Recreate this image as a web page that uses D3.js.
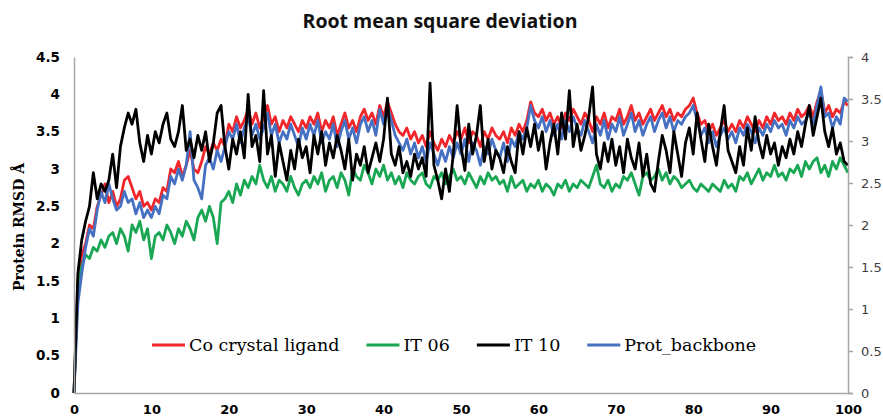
<!DOCTYPE html>
<html>
<head>
<meta charset="utf-8">
<script src="https://cdn.jsdelivr.net/npm/d3@7"></script>
<style>
  body { margin: 0; background: #fff; }
  svg { display: block; }
</style>
</head>
<body>
<div id="chart"></div>
<script>
// RMSD traces, one value every 0.5 ns from 0 to 100 ns
const stepNs = 0.5;

const coCrystalLigand = [
  0, 1.5, 1.85, 2.0, 2.25, 2.2, 2.5, 2.65, 2.8, 2.55,
  2.7, 2.5, 2.6, 2.85, 2.9, 2.75, 2.6, 2.7, 2.5, 2.55,
  2.45, 2.6, 2.55, 2.75, 2.7, 3.0, 2.95, 3.1, 2.9, 3.05,
  3.25, 3.0, 2.95, 3.1, 3.3, 3.2, 3.35, 3.25, 3.4, 3.3,
  3.6, 3.5, 3.7, 3.55, 3.65, 3.8, 3.6, 3.75, 3.55, 3.7,
  3.85, 3.6, 3.7, 3.5, 3.65, 3.55, 3.7, 3.6, 3.5, 3.65,
  3.55, 3.7, 3.6, 3.75, 3.5, 3.65, 3.55, 3.7, 3.45, 3.6,
  3.75, 3.55, 3.65, 3.5, 3.7, 3.8, 3.65, 3.75, 3.6, 3.85,
  3.7, 3.9, 3.75, 3.6, 3.5, 3.45, 3.55, 3.4, 3.5, 3.35,
  3.45, 3.3, 3.5, 3.35, 3.25, 3.4, 3.3, 3.45, 3.35, 3.5,
  3.4, 3.55, 3.35, 3.5, 3.45, 3.3, 3.5, 3.4, 3.55, 3.45,
  3.4, 3.5, 3.35, 3.55, 3.45, 3.6, 3.5, 3.65, 3.9, 3.75,
  3.7, 3.8, 3.65, 3.75, 3.6, 3.7, 3.55, 3.75, 3.65, 3.8,
  3.7, 3.6, 3.75, 3.65, 3.5, 3.7, 3.6, 3.75, 3.55, 3.7,
  3.65, 3.8, 3.6, 3.7, 3.85, 3.65, 3.75, 3.6, 3.7, 3.8,
  3.65, 3.75, 3.85, 3.7, 3.8, 3.65, 3.75, 3.7, 3.8, 3.85,
  3.95, 3.75, 3.6, 3.65, 3.5, 3.6, 3.45, 3.55, 3.65, 3.5,
  3.6, 3.5, 3.65, 3.55, 3.7, 3.6, 3.5, 3.65, 3.55, 3.7,
  3.6, 3.75, 3.65, 3.7, 3.6, 3.75, 3.65, 3.8, 3.7, 3.75,
  3.85, 3.7, 3.9, 4.05, 3.75, 3.85, 3.7, 3.8, 3.75, 3.9,
  3.85
];

const it06 = [
  0, 1.45, 1.7, 1.85, 1.8, 1.95, 1.9, 2.05, 1.95, 2.1,
  2.15, 2.0, 2.2, 2.1, 1.9, 2.25, 2.15, 2.3, 2.05, 2.2,
  1.8, 2.1, 2.15, 2.05, 2.25, 2.15, 2.0, 2.2, 2.1, 2.3,
  2.2, 2.05, 2.35, 2.45, 2.3, 2.5, 2.35, 2.0, 2.55, 2.6,
  2.7, 2.55, 2.8, 2.65, 2.85, 2.75, 2.9, 2.8, 3.05, 2.85,
  2.75, 2.9, 2.7, 2.85, 2.8, 2.7, 2.9, 2.75, 2.65, 2.8,
  2.85, 2.75, 2.9, 2.8, 2.95, 2.7, 2.85, 2.9, 2.75, 2.95,
  2.85, 2.65, 3.0, 2.9, 2.85, 3.05, 2.95, 2.8, 3.0, 2.9,
  3.05, 2.85, 2.95, 2.8, 2.9, 2.75, 2.95, 2.85, 2.8, 2.9,
  2.95, 2.8, 2.75, 2.9, 2.85, 2.95, 2.8, 2.9, 3.0, 2.85,
  2.9, 2.8, 2.95, 2.85, 2.75, 2.9, 2.8, 2.95, 2.85, 2.9,
  2.8, 2.85, 2.7, 2.9, 2.75, 2.8, 2.85, 2.7, 2.8, 2.75,
  2.85, 2.7, 2.8, 2.75, 2.65, 2.8, 2.75, 2.85, 2.7, 2.8,
  2.75, 2.85, 2.8, 2.75, 2.9, 3.05, 2.8, 2.75, 2.85, 2.7,
  2.8, 2.75, 2.9, 2.85, 2.95, 2.8, 2.65, 2.9, 2.95, 2.85,
  2.9, 3.0, 2.85, 2.95, 2.8, 2.9, 2.85, 2.75, 2.8, 2.85,
  2.75, 2.7, 2.8, 2.75, 2.7, 2.8, 2.75, 2.7, 2.85, 2.75,
  2.8, 2.7, 2.9, 2.85, 2.95, 2.8, 2.9, 3.0, 2.85, 2.95,
  2.9, 3.05, 2.9, 2.95, 2.85, 3.0, 2.95, 3.05, 2.9, 3.1,
  3.0, 3.1, 3.15, 2.95, 3.05, 2.9, 3.1, 3.0, 3.15, 3.05,
  2.95
];

const it10 = [
  0, 1.6, 2.05, 2.3, 2.5, 2.95, 2.6, 2.8, 2.7, 2.85,
  3.2, 2.75, 3.3, 3.55, 3.75, 3.6, 3.8, 3.35, 3.1, 3.45,
  3.2, 3.5, 3.35, 3.6, 3.75, 3.4, 3.3, 3.5, 3.85, 3.25,
  3.4, 3.15, 3.45, 3.25, 3.5, 3.1, 3.35, 3.75, 3.85, 3.3,
  3.0, 3.4, 3.2, 3.5, 3.15, 4.0, 3.3, 3.45, 3.1, 4.05,
  3.2, 3.45, 2.9, 3.35, 3.1, 2.85, 3.25, 3.0, 3.4, 3.15,
  3.3, 2.95, 3.45, 3.2, 3.5, 3.05, 3.35, 3.15, 3.45, 3.25,
  3.0, 3.4, 2.85, 3.2, 3.05, 3.3, 2.95, 3.15, 3.35, 3.1,
  3.4, 3.95, 3.2, 3.05, 3.3, 2.95, 3.1, 2.9, 3.2, 3.0,
  3.15, 2.9, 4.15, 3.05, 2.85, 2.6, 3.0, 2.7, 3.2, 3.85,
  3.3, 2.98, 3.6, 3.2, 3.45, 3.85, 3.1, 3.4, 3.0, 3.25,
  3.15, 2.95, 3.3, 3.1, 2.95, 3.5, 3.2, 3.55, 3.3, 3.6,
  3.25, 3.5, 3.0, 3.35, 3.6, 3.2, 3.75, 3.4, 4.05, 3.3,
  3.6, 3.25, 3.45, 3.7, 4.1, 3.2, 3.0, 3.35, 3.1, 3.4,
  3.05, 3.3, 2.95, 3.4, 3.15, 3.0, 3.35, 2.9, 3.2, 2.8,
  2.7, 3.1, 3.45, 3.25, 2.95, 3.5, 3.2, 2.9, 3.35, 3.55,
  3.2, 3.75, 3.4, 3.1, 3.6, 3.3, 3.05, 3.5, 3.85, 3.25,
  3.1, 2.95, 3.3, 3.05, 3.55, 3.25, 3.7, 3.35, 3.15, 3.45,
  3.2, 3.35, 3.05, 3.3, 3.15, 3.4, 3.2, 3.5, 3.3, 3.6,
  3.85, 3.45, 3.7, 3.95, 3.5, 3.3, 3.55, 3.2, 3.35, 3.1,
  3.05
];

const protBackbone = [
  0, 1.2, 1.6, 1.95, 2.2, 2.1, 2.45, 2.7, 2.55, 2.8,
  2.6, 2.45, 2.5, 2.7, 2.55, 2.6, 2.4, 2.55, 2.35, 2.45,
  2.35, 2.5, 2.4, 2.65, 2.6, 2.9, 2.8, 3.0, 2.85, 3.05,
  3.5, 2.85, 2.75, 2.6, 3.05, 3.15, 3.0, 3.25, 3.1, 3.3,
  3.5, 3.4, 3.6, 3.35, 3.55, 3.7, 3.45, 3.6, 3.4, 3.55,
  3.75, 3.45, 3.6, 3.35, 3.5, 3.4, 3.6, 3.45, 3.3, 3.55,
  3.4, 3.6, 3.45, 3.65, 3.35, 3.5, 3.4, 3.6, 3.3, 3.5,
  3.65, 3.4, 3.55, 3.35, 3.6, 3.7, 3.5, 3.65, 3.45, 3.8,
  3.6, 3.85, 3.65, 3.45, 3.35, 3.25, 3.4, 3.2, 3.35, 3.15,
  3.3, 3.1, 3.35, 3.2, 3.05, 3.25, 3.1, 3.3, 3.15, 3.35,
  3.2, 3.4, 3.1, 3.35, 3.25, 3.05, 3.3, 3.2, 3.4, 3.25,
  3.15, 3.35, 3.1, 3.4, 3.3, 3.5, 3.4, 3.55, 3.85, 3.65,
  3.55, 3.7, 3.5, 3.65, 3.45, 3.6, 3.4, 3.65, 3.5, 3.7,
  3.55, 3.45, 3.65, 3.5, 3.35, 3.6, 3.45, 3.65, 3.4, 3.6,
  3.5, 3.7, 3.45, 3.6, 3.75, 3.5, 3.65, 3.45, 3.6, 3.7,
  3.5, 3.65, 3.75, 3.55, 3.7, 3.5, 3.65, 3.6, 3.7, 3.75,
  3.85, 3.65, 3.45, 3.55, 3.35, 3.5, 3.3, 3.45, 3.55, 3.4,
  3.5, 3.35, 3.55, 3.45, 3.6, 3.5, 3.35, 3.55, 3.45, 3.6,
  3.5, 3.65, 3.55, 3.6, 3.45, 3.65, 3.55, 3.7, 3.6, 3.65,
  3.75, 3.6, 3.85, 4.1, 3.7, 3.75, 3.55, 3.7, 3.6, 3.95,
  3.9
];

const seriesNames = ["Co crystal ligand", "IT 06", "IT 10", "Prot_backbone"];
const seriesColors = ["#f0262b", "#1aa754", "#000000", "#4670c2"];
const seriesValues = [coCrystalLigand, it06, it10, protBackbone];
const drawOrder = [0, 1, 3, 2];

const xTicks = [0, 10, 20, 30, 40, 50, 60, 70, 80, 90, 100];
const yLeftTicks = [0, 0.5, 1, 1.5, 2, 2.5, 3, 3.5, 4, 4.5];
const yRightTicks = [0, 0.5, 1, 1.5, 2, 2.5, 3, 3.5, 4];

const width = 883;
const height = 419;
const plot = { left: 74, right: 848, top: 57, bottom: 393 };

const svg = d3.select("#chart")
  .append("svg")
  .attr("width", width)
  .attr("height", height);

// Title
svg.append("text")
  .attr("x", 440)
  .attr("y", 28)
  .attr("text-anchor", "middle")
  .attr("font-family", "'Open Sans', sans-serif")
  .attr("font-weight", "bold")
  .attr("font-size", "19.5px")
  .attr("fill", "#111")
  .text("Root mean square deviation");

// Scales
const x = d3.scaleLinear().domain([0, 100]).range([plot.left, plot.right]);
const y = d3.scaleLinear().domain([0, 4.5]).range([plot.bottom, plot.top]);
const y2 = d3.scaleLinear().domain([0, 4]).range([plot.bottom, plot.top]);

// Lines
const line = d3.line()
  .x((d, i) => x(i * stepNs))
  .y(d => y(d));

const lines = svg.append("g");
drawOrder.forEach(k => {
  lines.append("path")
    .datum(seriesValues[k])
    .attr("fill", "none")
    .attr("stroke", seriesColors[k])
    .attr("stroke-width", 2.8)
    .attr("stroke-linejoin", "round")
    .attr("d", line);
});

// Axes
const axisColor = "#a6a6a6";

const xAxis = svg.append("g")
  .attr("transform", `translate(0, ${plot.bottom})`)
  .call(d3.axisBottom(x).tickValues(xTicks).tickSize(0).tickPadding(12));
xAxis.select(".domain").attr("stroke", axisColor).attr("stroke-width", 1.5);
xAxis.selectAll("text")
  .attr("font-family", "'DejaVu Sans', Verdana, sans-serif")
  .attr("font-weight", "bold")
  .attr("font-size", "13px")
  .attr("fill", "#000");

const yAxis = svg.append("g")
  .attr("transform", `translate(${plot.left}, 0)`)
  .call(d3.axisLeft(y).tickValues(yLeftTicks).tickSize(0).tickPadding(14).tickFormat(d3.format("")));
yAxis.select(".domain").attr("stroke", axisColor).attr("stroke-width", 1.5);
yAxis.selectAll("text")
  .attr("font-family", "'DejaVu Sans', Verdana, sans-serif")
  .attr("font-weight", "bold")
  .attr("font-size", "13.5px")
  .attr("fill", "#000");

const yAxis2 = svg.append("g")
  .attr("transform", `translate(${plot.right}, 0)`)
  .call(d3.axisRight(y2).tickValues(yRightTicks).tickSize(5).tickPadding(8).tickFormat(d3.format("")));
yAxis2.select(".domain").attr("stroke", axisColor).attr("stroke-width", 1.5);
yAxis2.selectAll(".tick line").attr("stroke", axisColor).attr("stroke-width", 1.5);
yAxis2.selectAll("text")
  .attr("font-family", "'DejaVu Sans', Verdana, sans-serif")
  .attr("font-size", "13px")
  .attr("fill", "#404040");

// Y axis title
svg.append("text")
  .attr("transform", `translate(24, ${(plot.top + plot.bottom) / 2 + 2}) rotate(-90)`)
  .attr("text-anchor", "middle")
  .attr("font-family", "'DejaVu Serif', serif")
  .attr("font-weight", "bold")
  .attr("font-size", "14px")
  .attr("fill", "#000")
  .text("Protein RMSD Å");

// Legend
const legend = svg.append("g").attr("transform", "translate(152, 345)");
let lx = 0;
seriesNames.forEach((name, k) => {
  const item = legend.append("g").attr("transform", `translate(${lx}, 0)`);
  item.append("line")
    .attr("x1", 0).attr("x2", 33)
    .attr("y1", 0).attr("y2", 0)
    .attr("stroke", seriesColors[k])
    .attr("stroke-width", 2.8);
  const t = item.append("text")
    .attr("x", 37)
    .attr("y", 6)
    .attr("font-family", "'DejaVu Serif', serif")
    .attr("font-size", "17.5px")
    .attr("fill", "#000")
    .text(name);
  lx += 37 + t.node().getComputedTextLength() + 27;
});
</script>
</body>
</html>
